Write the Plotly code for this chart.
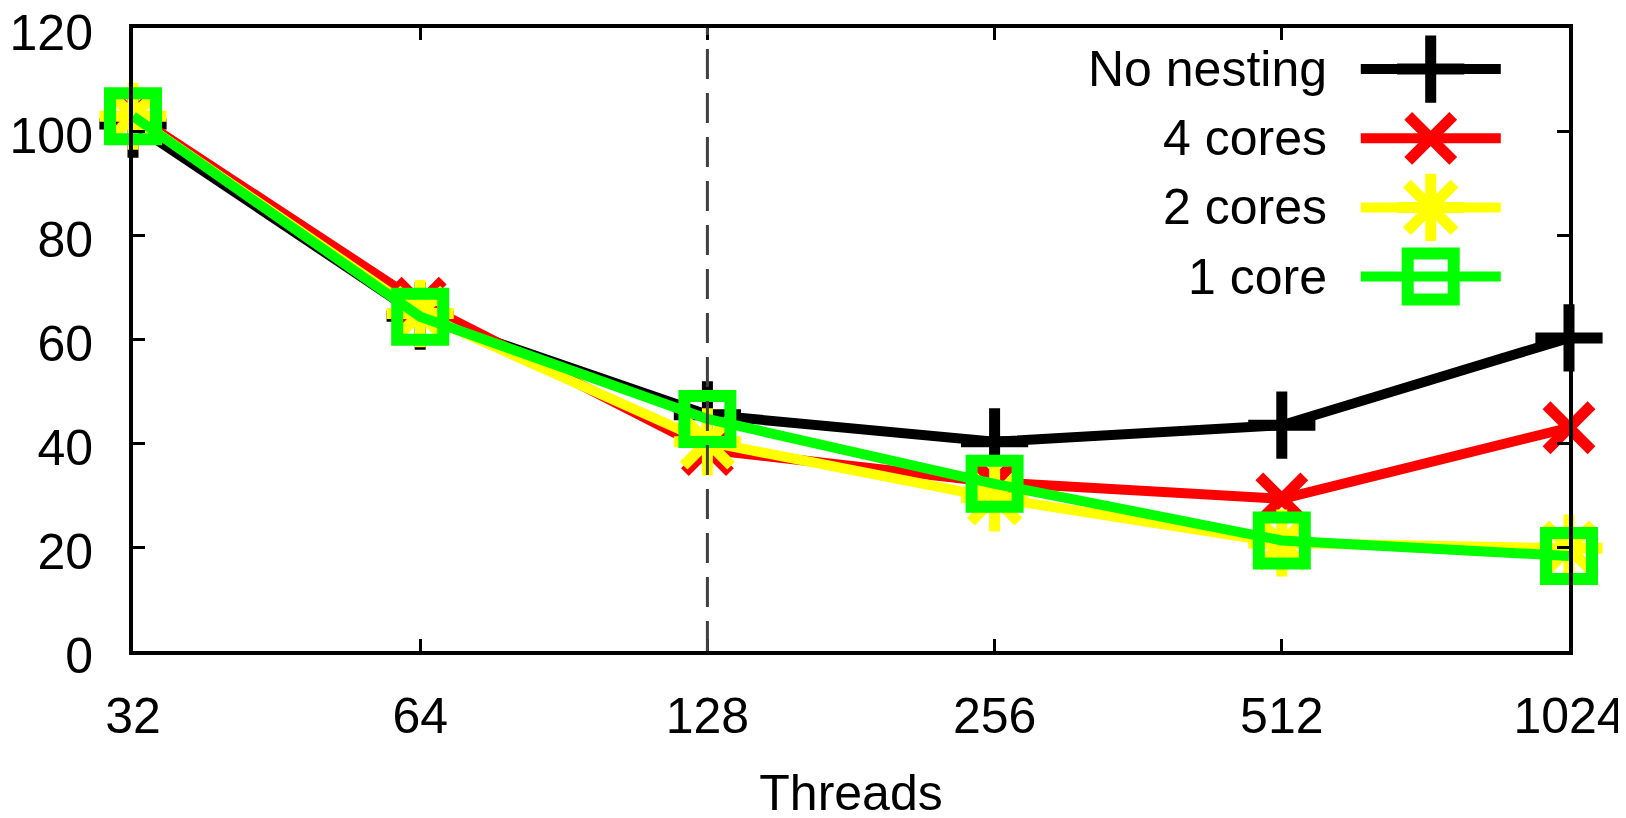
import math
import plotly.graph_objects as go

# ---- data ----
threads = [32, 64, 128, 256, 512, 1024]
tick_labels = ["32", "64", "128", "256", "512", "1024"]
y_ticks = [0, 20, 40, 60, 80, 100, 120]
no_nesting = [101.5, 64.5, 45.5, 40.3, 43.5, 60.3]
cores_4 = [103.3, 67.0, 38.8, 32.5, 29.3, 43.0]
cores_2 = [103.0, 65.0, 40.3, 29.5, 20.8, 19.8]
core_1 = [103.0, 64.4, 44.7, 32.2, 21.3, 18.3]
series_names = ["No nesting", "4 cores", "2 cores", "1 core"]
marker_line = 128

# ---- style ----
FONT = "Liberation Sans, Arial, Helvetica, sans-serif"
colors = ["#000000", "#ff0000", "#ffff00", "#00ff00"]
symbols = ["cross-thin", "x-thin", "asterisk", "square-open"]
sizes = [48, 45, 56, 46]
mlw = [11, 11, 11, 12]
LW = 10

fig = go.Figure()
all_series = [no_nesting, cores_4, cores_2, core_1]
for name, vals, c, s, sz, w in zip(series_names, all_series, colors, symbols, sizes, mlw):
    fig.add_trace(go.Scatter(
        x=threads, y=vals, name=name, mode="lines+markers",
        line=dict(color=c, width=LW),
        marker=dict(symbol=s, size=sz, color=c, line=dict(color=c, width=w)),
        showlegend=False, cliponaxis=False,
    ))

# ---- custom legend (paper-fraction coordinates on an overlay axis) ----
leg_x0, leg_x1, leg_xm = 0.8550, 0.9525, 0.9037
leg_text_x = 0.8326
leg_rows = [0.9340, 0.8230, 0.7120, 0.6010]
for name, c, s, sz, w, ry in zip(series_names, colors, symbols, sizes, mlw, leg_rows):
    fig.add_trace(go.Scatter(
        x=[leg_x0, leg_x1], y=[ry, ry], mode="lines",
        line=dict(color=c, width=LW), xaxis="x2", yaxis="y2",
        showlegend=False, hoverinfo="skip",
    ))
    fig.add_trace(go.Scatter(
        x=[leg_xm], y=[ry], mode="markers",
        marker=dict(symbol=s, size=sz, color=c, line=dict(color=c, width=w)),
        xaxis="x2", yaxis="y2", showlegend=False, hoverinfo="skip", cliponaxis=False,
    ))
    fig.add_annotation(
        x=leg_text_x, y=ry, xref="x2", yref="y2", text=name, showarrow=False,
        xanchor="right", yanchor="middle", font=dict(family=FONT, size=50, color="black"),
    )

fig.add_shape(
    type="line", x0=marker_line, x1=marker_line, xref="x", y0=0, y1=1, yref="paper",
    line=dict(color="#404040", width=3, dash="30px,14px"), layer="above",
)

fig.update_layout(
    width=1626, height=818,
    margin=dict(l=125, r=65, t=20, b=175),
    paper_bgcolor="white", plot_bgcolor="white",
    font=dict(family=FONT, size=50, color="black"),
    xaxis=dict(
        type="log", range=[math.log10(32) - 1e-9, math.log10(1024) + 1e-9],
        tickvals=threads, ticktext=tick_labels,
        ticks="inside", ticklen=12, tickwidth=3, tickcolor="black",
        showline=True, linewidth=4, linecolor="black", mirror="ticks",
        showgrid=False, zeroline=False, automargin=False,
        ticklabeloverflow="allow",
        tickfont=dict(family=FONT, size=50, color="black"),
        ticklabelstandoff=18,
        title=dict(text="Threads", font=dict(family=FONT, size=50, color="black"), standoff=33),
    ),
    yaxis=dict(
        range=[0, 120], tickvals=y_ticks,
        ticks="inside", ticklen=12, tickwidth=3, tickcolor="black",
        showline=True, linewidth=4, linecolor="black", mirror="ticks",
        showgrid=False, zeroline=False, automargin=False,
        ticklabeloverflow="allow",
        tickfont=dict(family=FONT, size=50, color="black"),
        ticklabelstandoff=26, ticklabelshift=4,
    ),
    xaxis2=dict(overlaying="x", range=[0, 1], visible=False, fixedrange=True),
    yaxis2=dict(overlaying="y", range=[0, 1], visible=False, fixedrange=True),
    showlegend=False,
)

fig.write_html("out.html")
